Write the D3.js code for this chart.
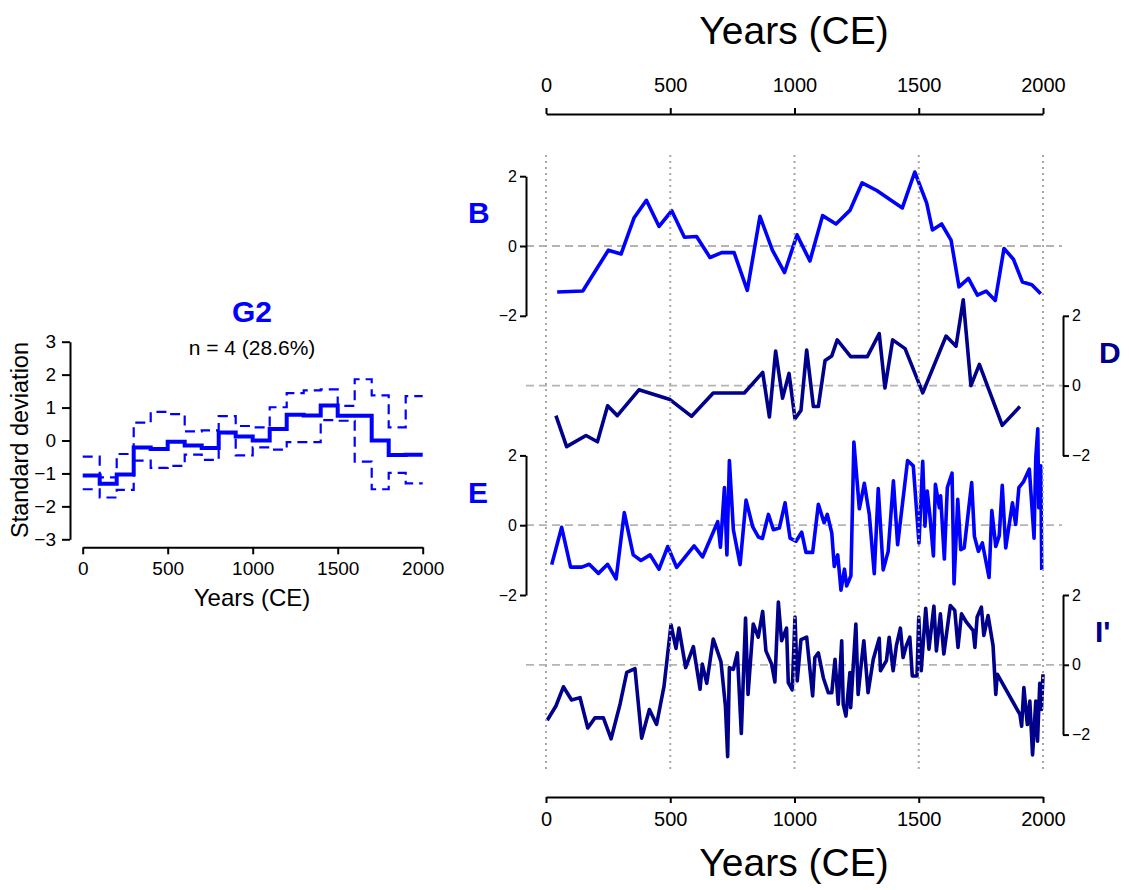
<!DOCTYPE html>
<html>
<head>
<meta charset="utf-8">
<script src="https://cdn.jsdelivr.net/npm/d3@7"></script>
<style>
  body { margin: 0; background: #fff; }
  text { font-family: "Liberation Sans", Arial, sans-serif; }
</style>
</head>
<body>
<div id="vis"></div>
<script>

// G2 composite, 100-year bins
var g2Bins = [0,100,200,300,400,500,600,700,800,900,1000,1100,1200,1300,1400,1500,1600,1700,1800,1900];
var g2Median = [-1.06,-1.31,-1.03,-0.21,-0.26,-0.04,-0.15,-0.23,0.24,0.12,0.0,0.35,0.78,0.76,1.06,0.75,0.75,0.0,-0.44,-0.43];
var g2Upper = [-0.49,-1.12,-0.41,0.54,0.87,0.80,0.28,0.31,0.74,0.44,0.40,1.01,1.44,1.52,1.55,1.05,1.86,1.37,0.40,1.35];
var g2Lower = [-1.48,-1.73,-1.50,-0.61,-0.83,-0.77,-0.43,-0.59,0.22,-0.45,-0.21,-0.28,-0.05,-0.05,0.62,0.60,-0.64,-1.48,-0.98,-1.30];

// record B
var bYears = [45,148,201,251,302,354,404,455,506,557,606,660,707,757,810,861,911,960,1010,1062,1113,1167,1223,1272,1331,1434,1484,1532,1555,1592,1630,1662,1700,1736,1771,1808,1843,1881,1917,1955,1991];
var bValues = [-1.32,-1.29,-0.69,-0.12,-0.23,0.80,1.31,0.56,1.01,0.25,0.27,-0.33,-0.19,-0.19,-1.27,0.85,-0.12,-0.76,0.32,-0.43,0.87,0.63,1.02,1.81,1.59,1.09,2.12,1.23,0.46,0.63,0.17,-1.17,-0.93,-1.41,-1.29,-1.56,-0.07,-0.38,-1.03,-1.11,-1.37];

// record D
var dYears = [40,83,161,207,248,287,374,499,586,673,798,872,899,924,952,978,1002,1026,1049,1076,1096,1123,1150,1172,1226,1293,1341,1364,1395,1445,1516,1610,1650,1679,1710,1744,1836,1907];
var dValues = [-0.86,-1.75,-1.43,-1.61,-0.58,-0.86,-0.12,-0.40,-0.88,-0.21,-0.21,0.38,-0.90,0.99,-0.36,0.35,-0.95,-0.71,1.02,-0.60,-0.60,0.72,0.85,1.31,0.83,0.83,1.49,-0.07,1.31,1.06,-0.21,1.42,1.13,2.46,0.0,0.61,-1.14,-0.60];

// record E
var eYears = [23,63,99,144,174,211,248,282,315,351,382,419,455,490,526,596,630,691,702,718,728,738,754,781,805,832,855,871,895,915,939,962,982,1006,1029,1046,1073,1096,1119,1132,1150,1160,1174,1187,1201,1210,1227,1239,1261,1281,1301,1321,1337,1357,1377,1398,1415,1455,1478,1501,1516,1525,1534,1545,1559,1567,1583,1588,1603,1615,1634,1642,1657,1669,1683,1713,1724,1740,1756,1783,1794,1810,1824,1836,1850,1877,1890,1903,1921,1945,1964,1971,1979,1983,1991,1995];
var eValues = [-1.13,-0.06,-1.20,-1.20,-1.12,-1.38,-1.12,-1.54,0.36,-0.85,-1.01,-0.85,-1.26,-0.61,-1.21,-0.59,-0.91,0.10,-0.63,1.08,-0.85,1.85,-0.13,-1.13,0.72,-0.05,-0.34,-0.38,0.31,-0.13,-0.08,0.64,-0.37,-0.46,-0.20,-0.78,-0.78,0.60,0.07,0.31,-0.22,-1.18,-0.85,-1.86,-1.26,-1.74,-1.45,2.38,0.47,1.20,0.31,-1.39,1.05,-1.28,-0.75,1.27,-0.56,1.85,1.70,-0.51,1.83,-0.03,0.98,0.26,-0.88,1.17,0.50,0.84,-0.97,1.08,1.49,-1.68,0.74,-0.70,-0.65,1.22,-0.32,-0.75,-0.51,-1.50,0.42,-0.61,-0.30,1.14,-0.65,0.64,0.02,1.08,1.24,1.61,-0.37,1.94,2.76,0.50,1.70,-1.28];

// record I'
var iYears = [5,40,70,103,137,168,197,231,262,298,325,358,385,416,445,475,503,523,535,562,593,620,629,647,673,704,722,731,738,754,770,786,803,813,834,854,872,885,908,921,935,948,968,975,991,1002,1011,1026,1049,1073,1082,1096,1116,1136,1150,1163,1176,1190,1196,1207,1223,1226,1247,1256,1270,1279,1296,1317,1341,1346,1370,1381,1397,1410,1426,1437,1450,1464,1474,1493,1500,1510,1528,1541,1561,1571,1587,1601,1627,1645,1658,1672,1692,1719,1726,1735,1752,1762,1779,1799,1810,1816,1907,1914,1923,1937,1947,1958,1971,1978,1987,1994,2000];
var iValues = [-1.59,-1.18,-0.63,-1.01,-0.94,-1.81,-1.52,-1.52,-2.12,-1.13,-0.22,-0.11,-2.10,-1.28,-1.71,-0.61,1.15,0.47,1.05,-0.08,0.52,-0.70,0.02,-0.53,0.74,0.09,-1.18,-2.63,-0.08,-0.13,0.34,-1.97,1.34,-0.85,1.17,0.79,1.53,0.40,0.02,-0.49,1.80,0.69,1.05,-0.51,-0.72,1.37,-0.46,0.72,0.79,-0.89,0.21,0.34,-0.37,-0.80,-0.80,0.16,-1.13,0.69,-1.13,-1.47,-0.22,-1.23,1.17,-0.85,0.12,0.69,-0.80,0.16,0.76,-0.17,0.12,0.79,-0.17,0.55,1.05,0.21,0.55,0.79,-0.32,-0.32,1.37,-0.17,1.62,0.45,1.68,0.40,1.46,0.31,1.70,1.56,0.50,1.46,1.22,0.98,0.50,1.37,1.65,0.84,1.41,0.55,-0.85,-0.27,-1.42,-1.76,-0.65,-1.71,-1.04,-2.58,-1.04,-2.19,-0.53,-1.28,-0.27];

var yearTicks = [0,500,1000,1500,2000];

var width = 1129;
var height = 890;
var blue = '#0000ff';
var navy = '#00008b';
var fmt = d3.format('d');

var svg = d3.select('#vis').append('svg')
  .attr('width', width)
  .attr('height', height);

function zip(xs, ys) {
  return xs.map(function(x, i) { return { x: x, y: ys[i] }; });
}

// ---------- left panel: G2 ----------
var xL = d3.scaleLinear().domain([0, 2000]).range([82.7, 422.7]);
var yL = d3.scaleLinear().domain([-3, 3]).range([539.3, 341.7]);

var left = svg.append('g');

function stepData(vals) {
  var pts = zip(g2Bins, vals);
  pts.push({ x: 2000, y: vals[vals.length - 1] });
  return pts;
}

var stepLine = d3.line()
  .x(function(d) { return xL(d.x); })
  .y(function(d) { return yL(d.y); })
  .curve(d3.curveStepAfter);

[g2Upper, g2Lower].forEach(function(s) {
  left.append('path')
    .attr('d', stepLine(stepData(s)))
    .attr('fill', 'none')
    .attr('stroke', blue)
    .attr('stroke-width', 2.2)
    .attr('stroke-dasharray', '10,6');
});

left.append('path')
  .attr('d', stepLine(stepData(g2Median)))
  .attr('fill', 'none')
  .attr('stroke', blue)
  .attr('stroke-width', 4);

var yAxisL = left.append('g')
  .attr('transform', 'translate(70,0)')
  .call(d3.axisLeft(yL).tickValues([-3,-2,-1,0,1,2,3]).tickFormat(fmt).tickSize(8).tickSizeOuter(0).tickPadding(6));

var xAxisL = left.append('g')
  .attr('transform', 'translate(0,547.3)')
  .call(d3.axisBottom(xL).tickValues(yearTicks).tickFormat(fmt).tickSize(7).tickSizeOuter(0).tickPadding(7));

[yAxisL, xAxisL].forEach(function(a) {
  a.selectAll('text').style('font-size', '19px').attr('fill', '#000');
  a.selectAll('line, path').attr('stroke', '#000').attr('stroke-width', 2);
});

left.append('text')
  .attr('x', 252).attr('y', 606)
  .attr('text-anchor', 'middle')
  .style('font-size', '24px')
  .text('Years (CE)');

left.append('text')
  .attr('transform', 'translate(28,440) rotate(-90)')
  .attr('text-anchor', 'middle')
  .style('font-size', '23.5px')
  .text('Standard deviation');

left.append('text')
  .attr('x', 252).attr('y', 322)
  .attr('text-anchor', 'middle')
  .style('font-size', '30px')
  .style('font-weight', 'bold')
  .attr('fill', blue)
  .text('G2');

left.append('text')
  .attr('x', 252).attr('y', 355)
  .attr('text-anchor', 'middle')
  .style('font-size', '21px')
  .text('n = 4 (28.6%)');

// ---------- right panel: stacked records ----------
var xR = d3.scaleLinear().domain([0, 2000]).range([546, 1043]);
var yR = d3.scaleLinear().domain([-12, 0]).range([664.8, 246]);

var records = [
  { name: 'B',  years: bYears, values: bValues, offset: 0,   color: blue, side: 'left',  lx: 468,  ly: 223 },
  { name: 'D',  years: dYears, values: dValues, offset: -4,  color: navy, side: 'right', lx: 1099, ly: 363 },
  { name: 'E',  years: eYears, values: eValues, offset: -8,  color: blue, side: 'left',  lx: 468,  ly: 503 },
  { name: "I'", years: iYears, values: iValues, offset: -12, color: navy, side: 'right', lx: 1095, ly: 642 }
];

var right = svg.append('g');

// zero lines
right.selectAll('.zero')
  .data(records)
  .enter().append('line')
  .attr('x1', 526).attr('x2', 1062)
  .attr('y1', function(d) { return yR(d.offset); })
  .attr('y2', function(d) { return yR(d.offset); })
  .attr('stroke', '#b4b4b4')
  .attr('stroke-width', 1.8)
  .attr('stroke-dasharray', '8,5');

var recLine = d3.line()
  .x(function(d) { return xR(d.x); })
  .y(function(d) { return yR(d.y); })
  .curve(d3.curveLinear);

records.forEach(function(r) {
  var pts = r.years.map(function(yr, i) { return { x: yr, y: r.values[i] + r.offset }; });
  right.append('path')
    .attr('d', recLine(pts))
    .attr('fill', 'none')
    .attr('stroke', r.color)
    .attr('stroke-width', 3.6)
    .attr('stroke-linejoin', 'round');
});

// vertical dotted grid
right.selectAll('.grid')
  .data(yearTicks)
  .enter().append('line')
  .attr('x1', function(d) { return xR(d); })
  .attr('x2', function(d) { return xR(d); })
  .attr('y1', 155).attr('y2', 770)
  .attr('stroke', '#a8a8a8')
  .attr('stroke-width', 2)
  .attr('stroke-dasharray', '2,4');

// per-record small axes
records.forEach(function(r) {
  var s = d3.scaleLinear().domain([-2, 2]).range([yR(r.offset - 2), yR(r.offset + 2)]);
  var ax = r.side === 'left' ? d3.axisLeft(s) : d3.axisRight(s);
  ax.tickValues([-2, 0, 2]).tickFormat(fmt).tickSize(6).tickSizeOuter(0).tickPadding(3);
  var g = right.append('g')
    .attr('transform', 'translate(' + (r.side === 'left' ? 526 : 1063) + ',0)')
    .call(ax);
  g.selectAll('text').style('font-size', '16px').attr('fill', '#000');
  g.selectAll('line, path').attr('stroke', '#000').attr('stroke-width', 2);

  right.append('text')
    .attr('x', r.lx).attr('y', r.ly)
    .style('font-size', '30px')
    .style('font-weight', 'bold')
    .attr('fill', r.color)
    .text(r.name);
});

// top and bottom year axes
var topAxis = right.append('g')
  .attr('transform', 'translate(0,114)')
  .call(d3.axisTop(xR).tickValues(yearTicks).tickFormat(fmt).tickSize(6).tickSizeOuter(0).tickPadding(16));

var bottomAxis = right.append('g')
  .attr('transform', 'translate(0,797)')
  .call(d3.axisBottom(xR).tickValues(yearTicks).tickFormat(fmt).tickSize(6).tickSizeOuter(0).tickPadding(9));

[topAxis, bottomAxis].forEach(function(a) {
  a.selectAll('text').style('font-size', '20px').attr('fill', '#000');
  a.selectAll('line, path').attr('stroke', '#000').attr('stroke-width', 2);
});

right.append('text')
  .attr('x', 794).attr('y', 44)
  .attr('text-anchor', 'middle')
  .style('font-size', '39px')
  .text('Years (CE)');

right.append('text')
  .attr('x', 794).attr('y', 876)
  .attr('text-anchor', 'middle')
  .style('font-size', '39px')
  .text('Years (CE)');

</script>
</body>
</html>
